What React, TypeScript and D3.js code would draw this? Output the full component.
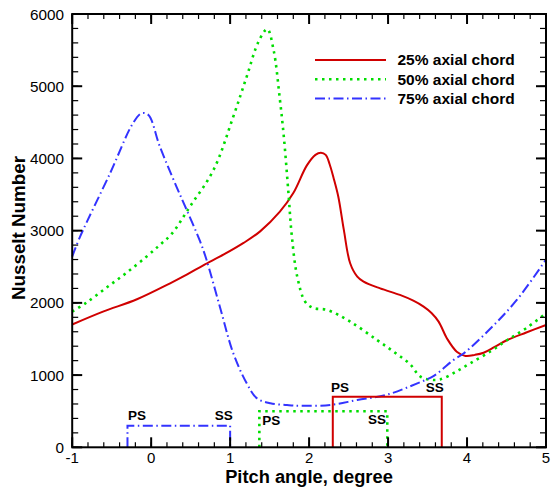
import React from "react";
import * as d3 from "d3";

const xTicks = [-1, 0, 1, 2, 3, 4, 5];
const yTicks = [0, 1000, 2000, 3000, 4000, 5000, 6000];

const seriesNames = ["25% axial chord", "50% axial chord", "75% axial chord"];

const red25: [number, number][] = [
  [-1, 1700], [-0.61, 1878], [-0.18, 2050], [0.24, 2271], [0.45, 2390], [0.66, 2520],
  [0.92, 2670], [1.17, 2830], [1.38, 2990], [1.63, 3263], [1.8, 3520], [1.97, 3900],
  [2.08, 4050], [2.15, 4080], [2.21, 4050], [2.26, 3920], [2.31, 3730], [2.37, 3470],
  [2.44, 3010], [2.52, 2548], [2.61, 2363], [2.69, 2294], [2.9, 2200], [3.15, 2110],
  [3.32, 2030], [3.45, 1948], [3.55, 1860], [3.64, 1740], [3.75, 1500], [3.87, 1324],
  [3.98, 1265], [4.1, 1280], [4.21, 1310], [4.35, 1390], [4.51, 1486], [4.75, 1590], [5, 1694],
];

const green50: [number, number][] = [
  [-1, 1880], [-0.82, 2003], [-0.56, 2216], [-0.31, 2418], [-0.06, 2640], [0.11, 2802],
  [0.26, 2955], [0.49, 3332], [0.79, 3841], [1.04, 4579], [1.21, 5133], [1.36, 5618],
  [1.47, 5790], [1.55, 5503], [1.63, 4817], [1.68, 4300], [1.74, 3500], [1.78, 2940],
  [1.85, 2363], [1.95, 2017], [2.05, 1930], [2.23, 1902], [2.52, 1740], [2.86, 1486],
  [3.1, 1300], [3.28, 1150], [3.41, 978], [3.55, 935], [3.66, 940], [3.85, 1040],
  [4.04, 1163], [4.3, 1330], [4.51, 1486], [4.75, 1650], [5, 1856],
];

const blue75: [number, number][] = [
  [-1, 2640], [-0.9, 2917], [-0.52, 3795], [-0.23, 4488], [-0.12, 4626], [-0.035, 4602],
  [0.11, 4164], [0.32, 3610], [0.45, 3287], [0.62, 2850], [0.7, 2600], [0.87, 1947],
  [1.04, 1302], [1.21, 886], [1.34, 678], [1.51, 609], [1.72, 586], [1.89, 575],
  [2.27, 586], [2.61, 655], [2.99, 730], [3.37, 886], [3.58, 990], [3.83, 1210],
  [3.96, 1302], [4.3, 1648], [4.63, 2040], [5, 2600],
];

const blueBracket: [number, number][] = [[-0.3, 0], [-0.3, 300], [1.0, 300], [1.0, 0]];
const greenBracket: [number, number][] = [[1.37, 0], [1.37, 500], [2.99, 500], [2.99, 0]];
const redBracket: [number, number][] = [[2.3, 0], [2.3, 700], [3.68, 700], [3.68, 0]];

const bracketLabels: { text: string; x: number; y: number }[] = [
  { text: "PS", x: -0.18, y: 380 },
  { text: "SS", x: 0.92, y: 375 },
  { text: "PS", x: 1.52, y: 305 },
  { text: "SS", x: 2.86, y: 322 },
  { text: "PS", x: 2.39, y: 770 },
  { text: "SS", x: 3.59, y: 765 },
];

const FONT = "'Liberation Sans', Arial, Helvetica, sans-serif";

export default function App() {
  const W = 551, H = 491;
  const x = d3.scaleLinear().domain([-1, 5]).range([72.2, 546]);
  const y = d3.scaleLinear().domain([0, 6000]).range([447.3, 14]);

  const smooth = d3.line<[number, number]>().x(d => x(d[0])).y(d => y(d[1])).curve(d3.curveCatmullRom.alpha(0.5));
  const straight = d3.line<[number, number]>().x(d => x(d[0])).y(d => y(d[1]));

  const styles = [
    { color: "#d00000", dash: "none", width: 2 },
    { color: "#00dd00", dash: "2.5,4.5", width: 2.6 },
    { color: "#3333ff", dash: "10,3.5,1.5,3.5", width: 2 },
  ];
  const series = [red25, green50, blue75];
  const brackets = [redBracket, greenBracket, blueBracket];

  const xMinor = d3.range(-1, 5.0001, 0.2);
  const yMinor = d3.range(0, 6001, 200);
  const [x0, x1] = x.range();
  const [yb, yt] = y.range();

  return (
    <svg width={W} height={H} style={{ position: "absolute", left: 0, top: 0, background: "#fff" }}>
      <rect width={W} height={H} fill="#fff" />
      {series.map((s, i) => (
        <path key={"s" + i} d={smooth(s) || ""} fill="none" stroke={styles[i].color}
          strokeWidth={styles[i].width} strokeDasharray={styles[i].dash} />
      ))}
      {brackets.map((b, i) => (
        <path key={"b" + i} d={straight(b) || ""} fill="none" stroke={styles[i].color}
          strokeWidth={styles[i].width} strokeDasharray={styles[i].dash} />
      ))}
      {bracketLabels.map((l, i) => (
        <text key={"l" + i} x={x(l.x)} y={y(l.y)} textAnchor="middle" fontFamily={FONT}
          fontWeight="bold" fontSize={13.5} fill="#000">{l.text}</text>
      ))}
      <g stroke="#000">
        {xMinor.map((v, i) => (
          <g key={"xm" + i}>
            <line x1={x(v)} x2={x(v)} y1={yb} y2={yb - 5} strokeWidth={1.2} />
            <line x1={x(v)} x2={x(v)} y1={yt} y2={yt + 5} strokeWidth={1.2} />
          </g>
        ))}
        {xTicks.map((v, i) => (
          <g key={"xM" + i}>
            <line x1={x(v)} x2={x(v)} y1={yb} y2={yb - 10} strokeWidth={2} />
            <line x1={x(v)} x2={x(v)} y1={yt} y2={yt + 10} strokeWidth={2} />
          </g>
        ))}
        {yMinor.map((v, i) => (
          <g key={"ym" + i}>
            <line x1={x0} x2={x0 + 6} y1={y(v)} y2={y(v)} strokeWidth={1.2} />
            <line x1={x1} x2={x1 - 6} y1={y(v)} y2={y(v)} strokeWidth={1.2} />
          </g>
        ))}
        {yTicks.map((v, i) => (
          <g key={"yM" + i}>
            <line x1={x0} x2={x0 + 10} y1={y(v)} y2={y(v)} strokeWidth={2} />
            <line x1={x1} x2={x1 - 10} y1={y(v)} y2={y(v)} strokeWidth={2} />
          </g>
        ))}
        <rect x={x0} y={yt} width={x1 - x0} height={yb - yt} fill="none" strokeWidth={2} />
      </g>
      {xTicks.map((v, i) => (
        <text key={"xl" + i} x={x(v)} y={462.5} textAnchor="middle" fontFamily={FONT} fontSize={15} fill="#000">{v}</text>
      ))}
      {yTicks.map((v, i) => (
        <text key={"yl" + i} x={64} y={y(v) + 5.5} textAnchor="end" fontFamily={FONT} fontSize={15.3} fill="#000">{v}</text>
      ))}
      <text x={309} y={482.5} textAnchor="middle" fontFamily={FONT} fontWeight="bold" fontSize={18.3} fill="#000">Pitch angle, degree</text>
      <text transform="translate(24.5,228) rotate(-90)" textAnchor="middle" fontFamily={FONT} fontWeight="bold" fontSize={18.8} fill="#000">Nusselt Number</text>
      {seriesNames.map((n, i) => {
        const ly = 60 + i * 19.2;
        return (
          <g key={"lg" + i}>
            <line x1={315} x2={386} y1={ly} y2={ly} stroke={styles[i].color} strokeWidth={styles[i].width}
              strokeDasharray={styles[i].dash} />
            <text x={397.5} y={ly + 5.3} fontFamily={FONT} fontWeight="bold" fontSize={15.5} fill="#000">{n}</text>
          </g>
        );
      })}
    </svg>
  );
}
